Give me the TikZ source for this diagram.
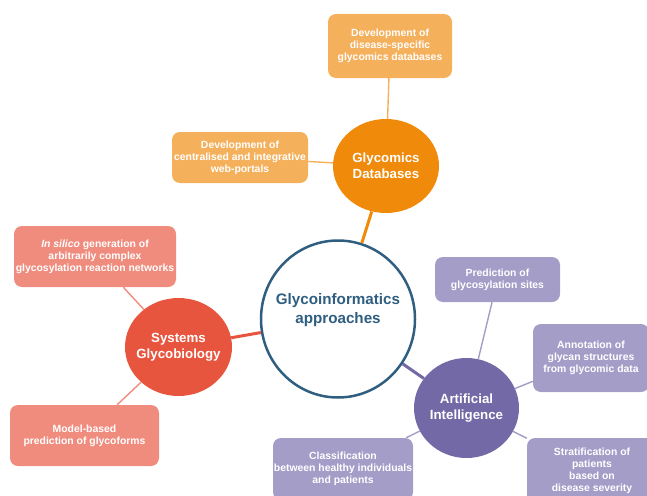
\documentclass[tikz,border=0pt]{standalone}
\usepackage{fontspec}
\setmainfont{Liberation Sans}
\usetikzlibrary{shapes.geometric}
\definecolor{orC}{HTML}{F08A0A}
\definecolor{orB}{HTML}{F5B05C}
\definecolor{rdC}{HTML}{E8553F}
\definecolor{rdB}{HTML}{F08C7E}
\definecolor{puC}{HTML}{7469A7}
\definecolor{puB}{HTML}{A39DC8}
\definecolor{cenC}{HTML}{2F5E80}
\begin{document}
\begin{tikzpicture}[x=1pt,y=-1pt,
  hub/.style={ellipse, inner sep=0pt},
  hublbl/.style={text=white, font=\bfseries\fontsize{13.3}{16}\selectfont, align=center, inner sep=0pt},
  cenlbl/.style={text=cenC, font=\bfseries\fontsize{15.2}{19}\selectfont, align=center, inner sep=0pt},
  leaf/.style={rectangle, rounded corners=8pt, inner sep=0pt, text=white, font=\bfseries\fontsize{10.4}{12}\selectfont, align=center},
  twig/.style={line width=1.4pt},
  limb/.style={line width=3pt}]
\useasboundingbox (0,0) rectangle (647,495);
\clip (0,0) rectangle (647,495);

% central
\node[hub, draw=cenC, line width=2.5pt, fill=white, minimum width=154pt, minimum height=157pt,
  label={[cenlbl, yshift=9pt]center:Glycoinformatics\\approaches}] (cen) at (338,319) {};

% Glycomics Databases
\node[hub, fill=orC, minimum width=106pt, minimum height=94pt,
  label={[hublbl]center:Glycomics\\Databases}] (gdb) at (386,166) {};
\node[leaf, fill=orB, minimum width=124pt, minimum height=64pt] (dis) at (390,46)
  {Development of\\disease-specific\\glycomics databases};
\node[leaf, fill=orB, minimum width=136pt, minimum height=51pt] (web) at (240,157.5)
  {Development of\\centralised and integrative\\web-portals};

% Systems Glycobiology
\node[hub, fill=rdC, minimum width=107pt, minimum height=98pt,
  label={[hublbl]center:Systems\\Glycobiology}] (sys) at (178.5,347) {};
\node[leaf, fill=rdB, minimum width=162pt, minimum height=61pt] (sil) at (95,256.5)
  {\textit{In silico} generation of\\arbitrarily complex\\glycosylation reaction networks};
\node[leaf, fill=rdB, minimum width=149pt, minimum height=61pt] (mod) at (84.5,435.5)
  {Model-based\\prediction of glycoforms};

% Artificial Intelligence
\node[hub, fill=puC, minimum width=105pt, minimum height=100pt,
  label={[hublbl]center:Artificial\\Intelligence}] (ai) at (466.5,408) {};
\node[leaf, fill=puB, minimum width=125pt, minimum height=45pt] (pred) at (497.5,279.5)
  {Prediction of\\glycosylation sites};
\node[leaf, fill=puB, minimum width=116pt, minimum height=68pt] (ann) at (591,358)
  {Annotation of\\glycan structures\\from glycomic data};
\node[leaf, fill=puB, minimum width=130pt, minimum height=66pt] (strat) at (592,471)
  {Stratification of\\patients\\based on\\disease severity};
\node[leaf, fill=puB, minimum width=140pt, minimum height=62pt] (cls) at (343,469)
  {Classification\\between healthy individuals\\and patients};

% connectors
\draw[limb, orC] (cen) -- (gdb);
\draw[limb, rdC] (cen) -- (sys);
\draw[limb, puC] (cen) -- (ai);
\draw[twig, orB] (dis) -- (gdb);
\draw[twig, orB] (web) -- (gdb);
\draw[twig, rdB] (sil) -- (sys);
\draw[twig, rdB] (mod) -- (sys);
\draw[twig, puB] (pred) -- (ai);
\draw[twig, puB] (ann) -- (ai);
\draw[twig, puB] (strat) -- (ai);
\draw[twig, puB] (cls) -- (ai);
\end{tikzpicture}
\end{document}
